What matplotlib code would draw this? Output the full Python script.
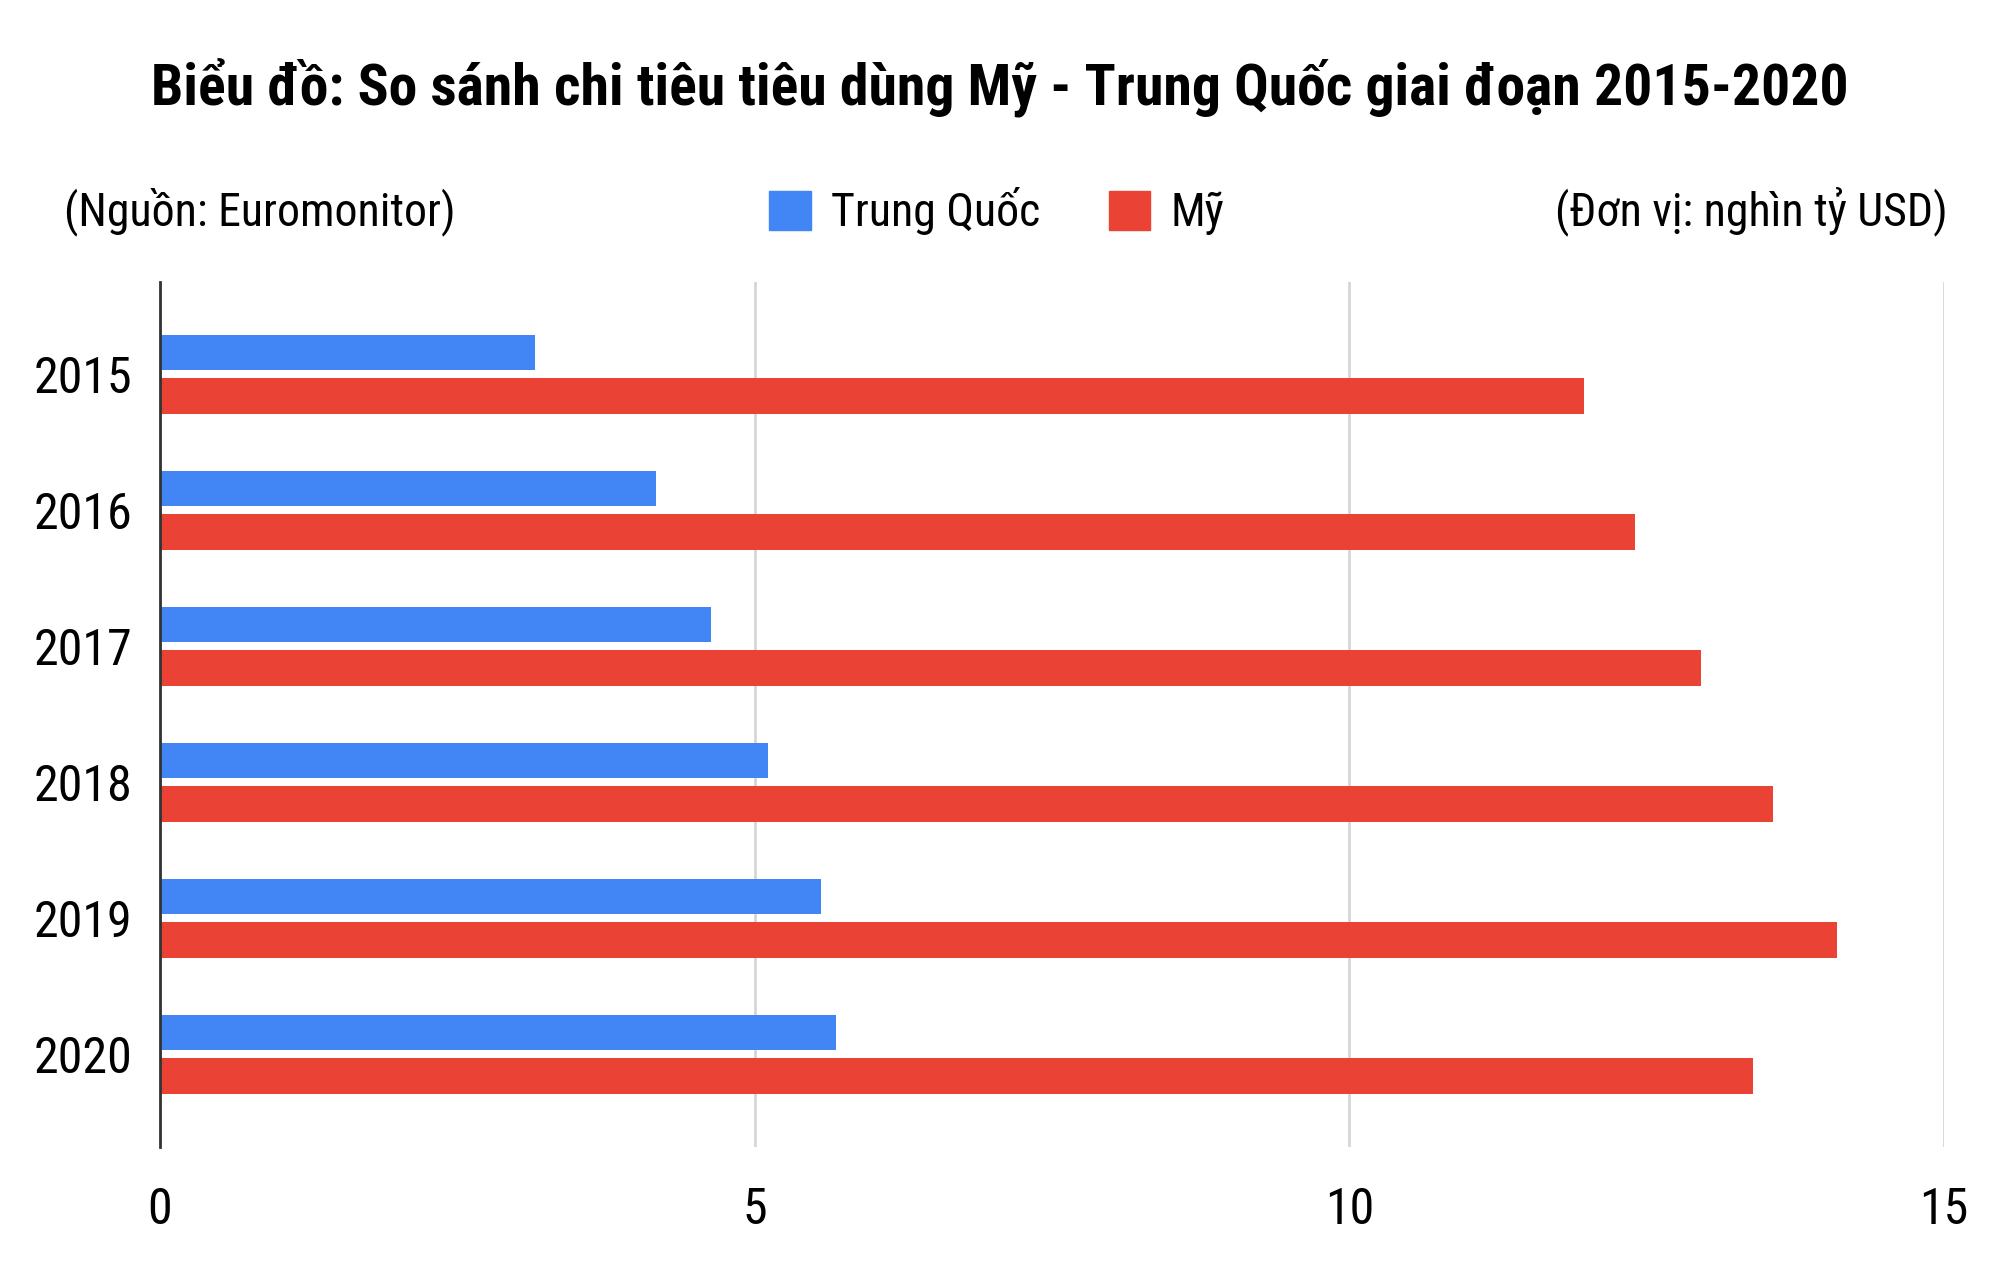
import numpy as np
import matplotlib
matplotlib.use('Agg')
import matplotlib.pyplot as plt
from matplotlib import font_manager as fm
from matplotlib.patches import Patch

# Dữ liệu (nghìn tỷ USD)
years = ['2015', '2016', '2017', '2018', '2019', '2020']
china = [3.15, 4.17, 4.63, 5.11, 5.56, 5.68]
usa = [11.97, 12.4, 12.96, 13.56, 14.1, 13.39]
series_names = ['Trung Quốc', 'Mỹ']
x_ticks = [0, 5, 10, 15]

c_blue = '#4285F4'
c_red = '#EA4335'

# chọn font hẹp nếu có
names = sorted({f.name for f in fm.fontManager.ttflist})
fam = 'DejaVu Sans'
for cand in ['Liberation Sans Narrow', 'DejaVu Sans Condensed', 'Roboto Condensed',
             'Open Sans Condensed', 'Noto Sans Condensed', 'Noto Sans ExtraCondensed']:
    if cand in names:
        fam = cand
        break
plt.rcParams['font.family'] = [fam, 'DejaVu Sans']

fig = plt.figure(figsize=(20, 12.8), dpi=100)
ax = fig.add_axes([0.08, 0.104, 0.892, 0.676])

y = np.arange(len(years))
h = 0.26
off = 0.16
ax.barh(y - off, china, height=h, color=c_blue, label=series_names[0])
ax.barh(y + off, usa, height=h, color=c_red, label=series_names[1])

ax.set_xlim(0, 15)
ax.set_ylim(len(years) - 1 + 0.68, -0.68)
ax.set_yticks(y)
ax.set_yticklabels(years, fontsize=36)
ax.set_xticks(x_ticks)
ax.set_xticklabels([str(v) for v in x_ticks], fontsize=36)
ax.tick_params(length=0, pad=20)
ax.tick_params(axis='x', pad=28)
ax.grid(axis='x', color='#d6d6d6', linewidth=2)
ax.set_axisbelow(True)
for s in ['top', 'right', 'bottom']:
    ax.spines[s].set_visible(False)
ax.spines['left'].set_color('#333333')
ax.spines['left'].set_linewidth(2)
ax.spines['left'].set_zorder(5)

fig.text(0.5, 0.932, 'Biểu đồ: So sánh chi tiêu tiêu dùng Mỹ - Trung Quốc giai đoạn 2015-2020',
         ha='center', va='center', fontsize=41.5, fontweight='bold')
fig.text(0.032, 0.835, '(Nguồn: Euromonitor)', ha='left', va='center', fontsize=33)
fig.text(0.974, 0.835, '(Đơn vị: nghìn tỷ USD)', ha='right', va='center', fontsize=33)

handles = [Patch(color=c_blue), Patch(color=c_red)]
fig.legend(handles, series_names, loc='center', bbox_to_anchor=(0.4985, 0.835), ncol=2,
           frameon=False, fontsize=33, handlelength=0.9, handleheight=0.95,
           columnspacing=1.5, handletextpad=0.45)

fig.savefig('out.png', dpi=100, facecolor='white')
